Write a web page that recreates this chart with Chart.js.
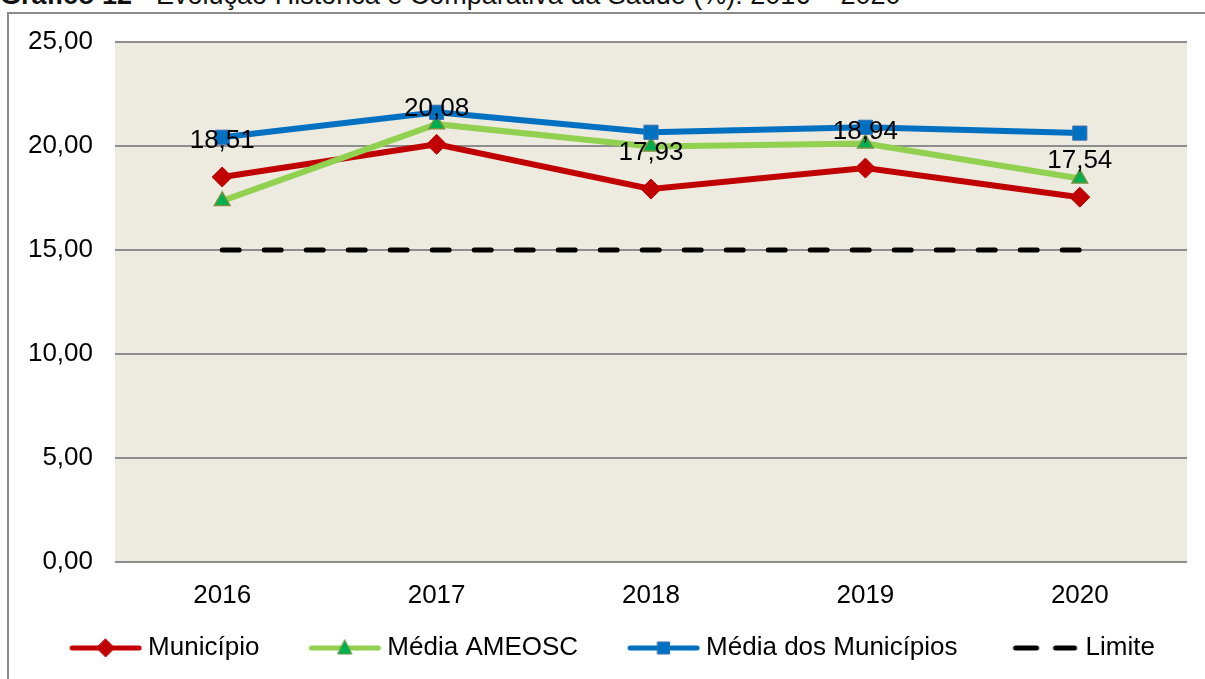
<!DOCTYPE html>
<html lang="pt">
<head>
  <meta charset="UTF-8">
  <title>Gráfico 12 - Evolução Histórica e Comparativa da Saúde</title>
  <script src="https://cdn.jsdelivr.net/npm/chart.js"></script>
  <style>
    body { margin: 0; background: #fff; font-family: Arial, 'Liberation Sans', sans-serif; overflow: hidden; }
    .title { position: absolute; left: 0; top: -18px; font-size: 27px; line-height: 1; white-space: nowrap; color: #111; }
    .frame { position: absolute; left: 7px; top: 12px; width: 1200px; height: 700px; border: 2px solid #8c8c8c; box-sizing: border-box; }
    #chart { position: absolute; left: 0; top: 0; }
  </style>
</head>
<body>

<div class="title"><b>Gráfico 12</b> - Evolução Histórica e Comparativa da Saúde (%): 2016 – 2020</div>
<div class="frame"></div>
<canvas id="chart" width="1205" height="679"></canvas>

<script>
const years = ["2016", "2017", "2018", "2019", "2020"];
const municipio = [18.51, 20.08, 17.93, 18.94, 17.54];
const mediaAmeosc = [17.36, 21.05, 19.98, 20.12, 18.44];
const mediaMunicipios = [20.42, 21.62, 20.66, 20.90, 20.62];
const limite = [15, 15, 15, 15, 15];
const yTicks = [0, 5, 10, 15, 20, 25];

const FONT = "Arial, 'Liberation Sans', sans-serif";
const FS = 26;
const fmt = v => v.toFixed(2).replace('.', ',');

// legend swatch: line with marker; image is wider than the legend box so
// the line sits close to the text like in the original
const SW_BOX = 99, SW_W = 119, SW_L = 43;
function swatch(color, marker, fill, stroke, dashed) {
  const c = document.createElement('canvas');
  c.width = SW_W; c.height = 24;
  const g = c.getContext('2d');
  g.lineCap = 'round';
  g.strokeStyle = color;
  g.lineWidth = 5;
  const x0 = SW_L + 3, x1 = SW_W - 6, mid = (x0 + x1) / 2;
  if (dashed) {
    g.beginPath(); g.moveTo(x0 + 6, 12); g.lineTo(x0 + 27, 12); g.stroke();
    g.beginPath(); g.moveTo(x1 - 21, 12); g.lineTo(x1 - 2, 12); g.stroke();
    return c;
  }
  g.beginPath(); g.moveTo(x0, 12); g.lineTo(x1, 12); g.stroke();
  g.fillStyle = fill; g.strokeStyle = stroke; g.lineWidth = 1;
  g.beginPath();
  if (marker === 'diamond') { g.moveTo(mid, 3); g.lineTo(mid + 9, 12); g.lineTo(mid, 21); g.lineTo(mid - 9, 12); }
  else if (marker === 'triangle') { g.moveTo(mid, 4); g.lineTo(mid + 7, 18); g.lineTo(mid - 7, 18); }
  else { g.rect(mid - 6, 6, 12, 12); }
  g.closePath(); g.fill(); g.stroke();
  return c;
}

const plotBg = {
  id: 'plotBg',
  afterLayout(chart) {
    chart.legend.left += 2;
    chart.legend.right += 2;
  },
  beforeDraw(chart) {
    const { ctx, chartArea: a } = chart;
    ctx.save();
    ctx.fillStyle = '#EDEAE0';
    ctx.fillRect(a.left, a.top, a.right - a.left, a.bottom - a.top);
    ctx.restore();
  }
};

const valueLabels = {
  id: 'valueLabels',
  afterDatasetsDraw(chart) {
    const { ctx } = chart;
    const meta = chart.getDatasetMeta(0);
    ctx.save();
    ctx.font = FS + 'px ' + FONT;
    ctx.fillStyle = '#000';
    ctx.textAlign = 'center';
    ctx.textBaseline = 'middle';
    meta.data.forEach((p, i) => ctx.fillText(fmt(municipio[i]), p.x, p.y - 36));
    ctx.restore();
  }
};

const swatches = [
  swatch('#C00000', 'diamond', '#C00000', '#C00000'),
  swatch('#92D050', 'triangle', '#00B050', '#77933C'),
  swatch('#0070C0', 'square', '#0070C0', '#3A6FB0'),
  swatch('#000', null, null, null, true)
];

new Chart(document.getElementById('chart'), {
  type: 'line',
  data: {
    labels: years,
    datasets: [
      { label: 'Município', data: municipio, order: 4, borderColor: '#C00000', borderWidth: 6,
        pointStyle: 'rectRot', pointRadius: 10, pointBackgroundColor: '#C00000', pointBorderColor: '#C00000', pointBorderWidth: 1 },
      { label: 'Média AMEOSC', data: mediaAmeosc, order: 3, borderColor: '#92D050', borderWidth: 6,
        pointStyle: 'triangle', pointRadius: 9, pointBackgroundColor: '#00B050', pointBorderColor: '#77933C', pointBorderWidth: 1.5 },
      { label: 'Média dos Municípios', data: mediaMunicipios, order: 2, borderColor: '#0070C0', borderWidth: 6,
        pointStyle: 'rect', pointRadius: 10, pointBackgroundColor: '#0070C0', pointBorderColor: '#3A6FB0', pointBorderWidth: 1 },
      { label: 'Limite', data: limite, order: 1, borderColor: '#000', borderWidth: 5, borderDash: [17, 25],
        borderCapStyle: 'round', pointRadius: 0 }
    ]
  },
  options: {
    responsive: false,
    animation: false,
    devicePixelRatio: 1,
    layout: { padding: { top: 42, right: 18, left: 0, bottom: 8 } },
    plugins: {
      tooltip: { enabled: false },
      legend: {
        position: 'bottom',
        labels: {
          usePointStyle: true,
          pointStyleWidth: SW_BOX,
          padding: 16,
          color: '#000',
          font: { size: FS, family: FONT },
          generateLabels: chart => chart.data.datasets.map((ds, i) => ({
            text: ds.label, pointStyle: swatches[i], datasetIndex: i,
            fontColor: '#000', lineWidth: 0, hidden: false
          }))
        }
      }
    },
    scales: {
      x: {
        offset: true,
        grid: { display: false },
        border: { display: false },
        ticks: { color: '#000', font: { size: FS, family: FONT }, padding: 10 },
        afterFit(s) { s.height = 57; }
      },
      y: {
        min: 0, max: 25,
        afterBuildTicks(s) { s.ticks = yTicks.map(v => ({ value: v })); },
        grid: { color: '#8E8E8E', lineWidth: 2, drawTicks: false },
        border: { display: false },
        ticks: { color: '#000', font: { size: FS, family: FONT }, padding: 22, callback: v => fmt(v) },
        afterFit(s) { s.width = 115; }
      }
    }
  },
  plugins: [plotBg, valueLabels]
});
</script>

</body>
</html>
